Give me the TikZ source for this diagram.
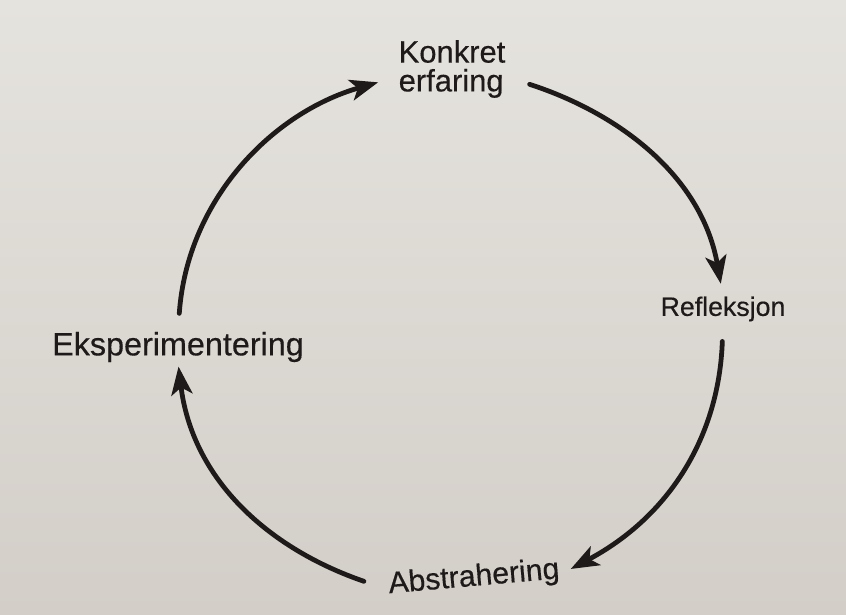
\documentclass[tikz,border=0pt]{standalone}
\usepackage{fontspec}
\setmainfont{Liberation Sans}
\newfontfamily\stagefont{Liberation Sans}[FakeBold=0.4]
\usetikzlibrary{arrows.meta}

\definecolor{paper}{RGB}{229,227,222}
\definecolor{paperdark}{RGB}{211,206,200}
\definecolor{ink}{RGB}{30,26,26}

\tikzset{
  stage/.style={text=ink, inner sep=0pt},
  cyclearrow/.style={draw=ink, line width=3.4pt, line cap=round,
    -{Stealth[length=20pt,width=15pt,inset=5pt]}},
}

\begin{document}
\begin{tikzpicture}[x=0.025cm,y=0.025cm]
  % page
  \shade[top color=paper, bottom color=paperdark] (0,0) rectangle (846,615);
  \useasboundingbox (0,0) rectangle (846,615);

% the four stages of the cycle
  \node[stage, align=left, font=\stagefont\fontsize{22}{20.5}\selectfont] (konkret) at (452,546) {Konkret\\erfaring};
  \node[stage, font=\stagefont\fontsize{19}{22}\selectfont] (refleksjon) at (723,306) {Refleksjon};
  \node[stage, inner xsep=7pt, rotate=5, font=\stagefont\fontsize{21.5}{24}\selectfont] (abstrahering) at (474,37) {Abstrahering};
  \node[stage, font=\stagefont\fontsize{23}{26}\selectfont] (eksperimentering) at (178,268) {Eksperimentering};

% arrows round the circle
  \draw[cyclearrow, shorten <=18pt, shorten >=9pt] (konkret.-8) to[out=-18,in=100] (refleksjon.north);
  \draw[cyclearrow, shorten <=14pt, shorten >=1pt] (refleksjon.south) to[out=-92,in=28] (abstrahering.east);
  \draw[cyclearrow, shorten <=11pt, shorten >=3pt] (abstrahering.west) to[out=161,in=-83] (eksperimentering.south);
  \draw[cyclearrow, shorten <=13pt, shorten >=15pt] (eksperimentering.north) to[out=86,in=196] (konkret.188);

\end{tikzpicture}
\end{document}
